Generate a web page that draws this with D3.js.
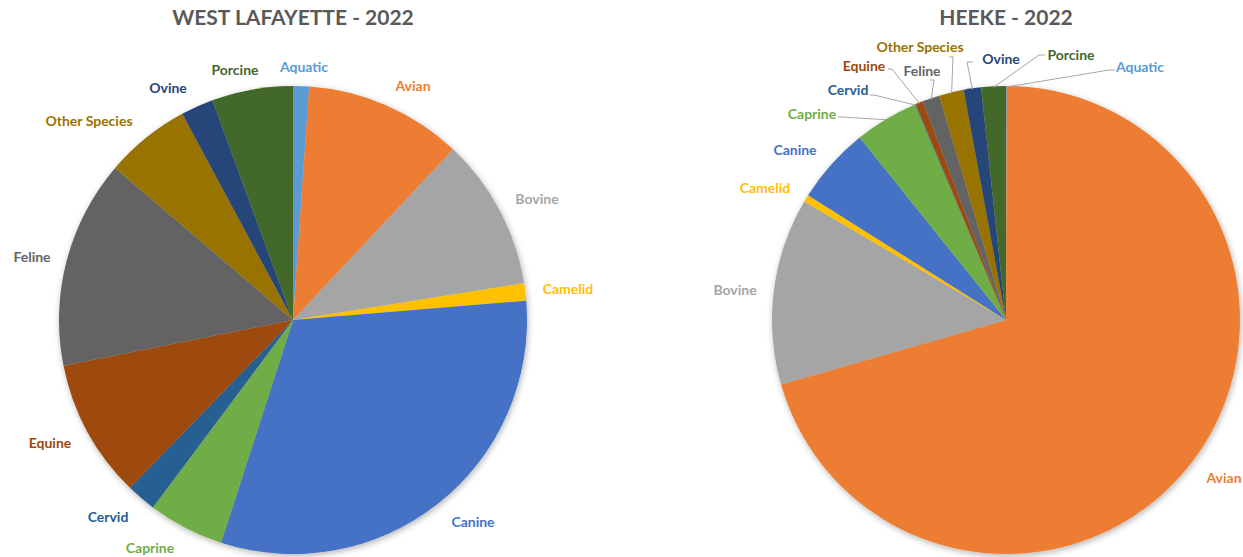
<!DOCTYPE html>
<html>
<head>
<meta charset="utf-8">
<script src="https://cdn.jsdelivr.net/npm/d3@7"></script>
<style>
  body { margin: 0; background: #fff; }
  svg { display: block; font-family: Lato, "Open Sans", sans-serif; }
</style>
</head>
<body>
<script>
"use strict";
// species (same order in both charts, clockwise from 12 o'clock)
const species = ["Aquatic", "Avian", "Bovine", "Camelid", "Canine", "Caprine",
    "Cervid", "Equine", "Feline", "Other Species", "Ovine", "Porcine"]
// share of cases, percent
const westLafayette = [1.1, 10.9, 10.5, 1.2, 31.3, 5.25, 2.05, 9.6, 14.4, 5.9, 2.25, 5.6]
const heeke = [0.05, 70.5, 12.9, 0.5, 5.3, 4.4, 0.05, 0.5, 1.2, 1.7, 1.2, 1.7]
const titles = ["WEST LAFAYETTE - 2022", "HEEKE - 2022"]

const colors = ["#5B9BD5", "#ED7D31", "#A5A5A5", "#FFC000", "#4472C4", "#70AD47",
    "#255E91", "#9E480E", "#636363", "#997300", "#264478", "#43682B"]

const measurements = { width: 1243, height: 557, radius: 234 }

// label placement relative to pie centre (layout only)
const labelsLeft = [[11, -253], [120, -234], [244, -121], [275, -31], [180, 202], [-143, 228],
    [-185, 197], [-243, 123], [-261, -63], [-204, -199], [-125, -232], [-58, -250]]
const labelsRight = [[134, -253], [218, 158], [-271, -30], [-241, -132], [-211, -170], [-194, -206],
    [-158, -230], [-142, -254], [-84, -249], [-86, -273], [-5, -261], [65, -265]]
// leader line start points (relative to centre), null = no leader
const leadersRight = [[109, -250], null, null, null, null, [-168, -203],
    [-136, -225], [-118, -251], [-76, -240], [-57, -263], [-33, -258], [39, -265]]

const svg = d3.select("body").append("svg")
    .attr("width", measurements.width)
    .attr("height", measurements.height)

const defs = svg.append("defs")
const shadow = defs.append("filter").attr("id", "shadow")
    .attr("x", "-10%").attr("y", "-10%").attr("width", "120%").attr("height", "120%")
shadow.append("feDropShadow")
    .attr("dx", 1).attr("dy", 2).attr("stdDeviation", 3)
    .attr("flood-color", "#000").attr("flood-opacity", 0.3)

drawPie(westLafayette, titles[0], 293, 320, labelsLeft, null)
drawPie(heeke, titles[1], 1006, 320, labelsRight, leadersRight)

function drawPie(values, title, cx, cy, labelPos, leaders) {
    const r = measurements.radius
    const rows = species.map((s, i) => ({ name: s, value: values[i], color: colors[i] }))

    const pie = d3.pie().sort(null).value(d => d.value)
    const arc = d3.arc().innerRadius(0).outerRadius(r)
    const edge = d3.arc().innerRadius(r - 1).outerRadius(r - 1)
    const arcs = pie(rows)

    const g = svg.append("g").attr("transform", `translate(${cx},${cy})`)

    g.append("g").attr("filter", "url(#shadow)")
        .selectAll("path")
        .data(arcs)
        .enter()
        .append("path")
            .attr("d", arc)
            .attr("fill", d => d.data.color)

    // leader lines
    if (leaders) {
        g.selectAll(".leader")
            .data(arcs.filter((d, i) => leaders[i]))
            .enter()
            .append("path")
                .attr("class", "leader")
                .attr("fill", "none")
                .attr("stroke", "#A6A6A6")
                .attr("stroke-width", 1)
                .attr("d", d => {
                    const i = d.index
                    const p = edge.centroid(d)
                    const s = leaders[i]
                    const left = labelPos[i][0] < s[0]
                    const bend = [s[0] + (left ? 4 : -6), s[1]]
                    return d3.line()([s, bend, p])
                })
    }

    g.selectAll(".label")
        .data(arcs)
        .enter()
        .append("text")
            .attr("class", "label")
            .attr("x", d => labelPos[d.index][0])
            .attr("y", d => labelPos[d.index][1])
            .attr("dy", "0.35em")
            .attr("text-anchor", "middle")
            .attr("font-size", 14)
            .attr("font-weight", "bold")
            .attr("fill", d => d.data.color)
            .text(d => d.data.name)

    svg.append("text")
        .attr("x", cx)
        .attr("y", 25)
        .attr("text-anchor", "middle")
        .attr("font-size", 21)
        .attr("font-weight", "bold")
        .attr("fill", "#595959")
        .text(title)
}
</script>
</body>
</html>
